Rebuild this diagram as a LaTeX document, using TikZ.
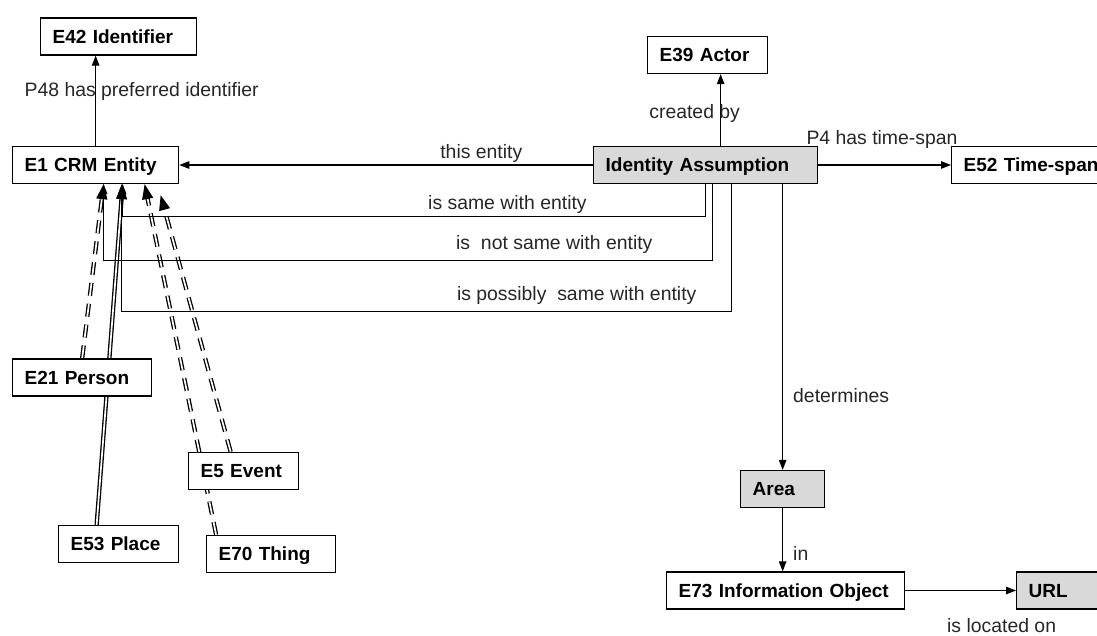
\documentclass[tikz,border=0pt]{standalone}
\usepackage{fontspec}
\setmainfont{Liberation Sans}
\usetikzlibrary{arrows.meta,backgrounds}
\definecolor{iagray}{RGB}{217,217,217}

\begin{document}
\begin{tikzpicture}[x=1pt, y=-1pt,
    enode/.style={draw, fill=white, line width=1.3pt, anchor=west, align=left, inner xsep=12pt, inner ysep=0pt, minimum height=37pt, text height=13.6pt, text depth=0pt, font=\fontsize{19}{22}\selectfont\bfseries},
    gnode/.style={enode, fill=iagray},
    rlabel/.style={font=\fontsize{19.4}{22}\selectfont, text=black!85, inner sep=2pt},
    arr/.style={line width=1.1pt, -{Triangle[length=10pt,width=7.5pt]}},
    isa/.style={double, double distance=1.7pt, line width=1.3pt, -{Triangle[length=15pt,width=11pt]}}]
    \useasboundingbox (0,0) rectangle (1097,635);

    \node[enode, text width=132pt] (e42) at (40,36.5) {E42 Identifier};
    \node[enode, text width=142pt] (e1) at (12,165) {E1 CRM Entity};
    \node[enode, text width=96pt] (e39) at (647,55) {E39 Actor};
    \node[gnode, text width=200pt] (ia) at (593,165) {Identity Assumption};
    \node[enode, text width=150pt] (e52) at (951,165) {E52 Time-span};
    \node[enode, text width=115pt] (e21) at (12,377.5) {E21 Person};
    \node[enode, text width=96pt] (e53) at (58,544) {E53 Place};
    \node[enode, text width=86pt] (e5) at (188,471) {E5 Event};
    \node[enode, text width=105pt] (e70) at (206,554) {E70 Thing};
    \node[gnode, text width=60pt] (area) at (740,489) {Area};
    \node[enode, text width=214pt] (e73) at (666,590.5) {E73 Information Object};
    \node[gnode, text width=60pt] (url) at (1016,590.5) {URL};

    \draw[arr] (e1.north) -- node[rlabel, pos=0.6, xshift=46pt] {P48 has preferred identifier} (e1.north |- e42.south);
    \draw[arr] (ia.west) -- node[rlabel, above, pos=0.27] {this entity} (e1.east);
    \draw[arr] ([xshift=15pt]ia.north) -- node[rlabel, pos=0.45, xshift=-26pt] {created by} ([xshift=15pt]ia.north |- e39.south);
    \draw[arr] (ia.east) -- node[rlabel, pos=0.48, yshift=26pt] {P4 has time-span} (e52.west);
    \draw[arr] (area.north |- ia.south) -- node[rlabel, right=8pt, pos=0.74] {determines} (area.north);
    \draw[arr] (area.south) -- node[rlabel, right=8pt, pos=0.72] {in} (area.south |- e73.north);
    \draw[arr] (e73.east) -- node[rlabel, pos=0.87, yshift=-35pt] {is located on} (url.west);

    \draw[arr] (ia.south) -- ++(0,32) -| node[rlabel, above, pos=0.17] {is same with entity} ([xshift=27pt]e1.south);
    \draw[arr] ([xshift=7pt]ia.south) -- ++(0,76) -| node[rlabel, above=4pt, pos=0.13] {is\ \ not same with entity} ([xshift=8pt]e1.south);
    \draw[arr] ([xshift=26pt]ia.south) -- ++(0,127) -| node[rlabel, above=4pt, pos=0.127] {is possibly\ \ same with entity} ([xshift=26pt]e1.south);

   \begin{scope}[on background layer]
    \draw[isa] ([xshift=-22pt]e53.north) -- ([xshift=27pt]e1.south);
    \begin{scope}[dash pattern=on 13pt off 8pt]
     \draw[isa] (e21.north) -- ([xshift=8pt]e1.south);
     \draw[isa] ([xshift=-55pt]e70.north) -- ([xshift=49pt]e1.south);
     \draw[isa] ([xshift=-13pt]e5.north) -- ([xshift=65pt,yshift=-11pt]e1.south);
    \end{scope}
   \end{scope}
\end{tikzpicture}
\end{document}
